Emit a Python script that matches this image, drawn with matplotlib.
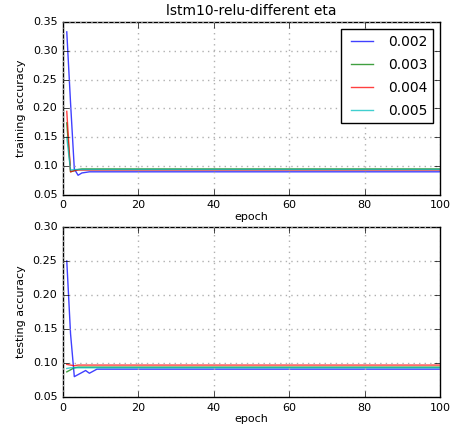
import matplotlib
matplotlib.use("Agg")
import matplotlib.pyplot as plt

plt.style.use('classic')

epochs = list(range(1, 101))
labels = ['0.002', '0.003', '0.004', '0.005']
colors = ['b', 'g', 'r', 'c']

train_002 = [0.333, 0.21, 0.095, 0.084, 0.088, 0.089] + [0.090] * 94
train_003 = [0.175, 0.090, 0.092, 0.094] + [0.095] * 96
train_004 = [0.195, 0.090, 0.092, 0.093] + [0.093] * 96
train_005 = [0.150, 0.093, 0.094] + [0.094] * 97

test_002 = [0.250, 0.143, 0.080, 0.083, 0.086, 0.089, 0.085, 0.088, 0.091] + [0.091] * 91
test_003 = [0.087, 0.090, 0.093] + [0.094] * 97
test_004 = [0.098, 0.097, 0.096] + [0.097] * 97
test_005 = [0.092, 0.093] + [0.093] * 98

fig = plt.figure(figsize=(4.5, 4.33), dpi=100, facecolor='white')
ax1 = fig.add_axes([0.14, 0.55, 0.838, 0.399])
ax2 = fig.add_axes([0.14, 0.083, 0.838, 0.393])

for ys, lab, c in zip([train_002, train_003, train_004, train_005], labels, colors):
    ax1.plot(epochs, ys, color=c, label=lab, alpha=0.75, linewidth=1)
for ys, lab, c in zip([test_002, test_003, test_004, test_005], labels, colors):
    ax2.plot(epochs, ys, color=c, label=lab, alpha=0.75, linewidth=1)

ax1.set_xlim(0, 100)
ax1.set_ylim(0.05, 0.35)
ax2.set_xlim(0, 100)
ax2.set_ylim(0.05, 0.30)

ax1.set_title('lstm10-relu-different eta', fontsize=10)
ax1.set_xlabel('epoch', fontsize=8)
ax1.set_ylabel('training accuracy', fontsize=8)
ax2.set_xlabel('epoch', fontsize=8)
ax2.set_ylabel('testing accuracy', fontsize=8)

for ax in (ax1, ax2):
    ax.grid(True, color='#b0b0b0', linestyle=':', linewidth=1)
    ax.tick_params(labelsize=8)
    ax.xaxis.labelpad = 1

ax1.legend(loc='upper right', fontsize=10, handlelength=2.2, labelspacing=0.65)

fig.savefig('out.png', dpi=100, facecolor='white')
